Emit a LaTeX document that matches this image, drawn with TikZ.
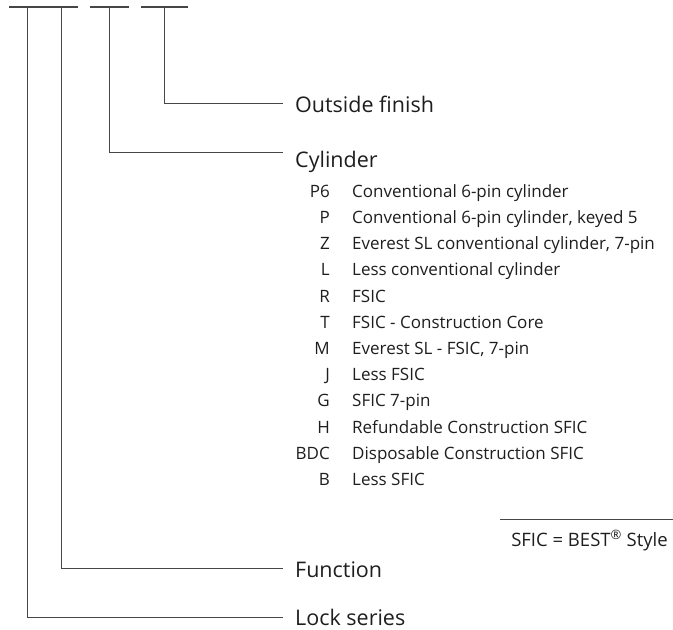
\documentclass[tikz,border=0pt]{standalone}
\usepackage{fontspec}
\setmainfont{Open Sans}
\usetikzlibrary{positioning}
\definecolor{rule}{RGB}{70,70,70}
\definecolor{ink}{RGB}{30,30,30}
\tikzset{
  bar/.style={draw=rule,line width=1.1pt},
  lead/.style={draw=rule,line width=1pt},
  head/.style={anchor=base west,inner sep=0pt,text=ink,font=\fontsize{21.5}{24}\selectfont},
  code/.style={anchor=base east,inner sep=0pt,text=ink,font=\fontsize{17}{20}\selectfont},
  desc/.style={anchor=base west,inner sep=0pt,text=ink,font=\fontsize{17}{20}\selectfont},
  notetext/.style={anchor=base east,inner sep=0pt,text=ink,font=\fontsize{18.5}{21}\selectfont},
}
\begin{document}
\begin{tikzpicture}[x=1pt,y=-1pt]
  \useasboundingbox (0,0) rectangle (673,630);
  % segment bars on top
  \draw[bar] (9,7) -- (78,7);
  \draw[bar] (90,7) -- (129,7);
  \draw[bar] (141,7) -- (188,7);
  \coordinate (series) at (27,7);
  \coordinate (function) at (61,7);
  \coordinate (cylinder) at (109,7);
  \coordinate (finish) at (164,7);
  % labels
  \node[head] (finishlbl) at (295,112) {Outside finish};
  \node[head] (cyllbl) at (295,167) {Cylinder};
  \node[head] (funclbl) at (295,577) {Function};
  \node[head] (serieslbl) at (295,625) {Lock series};
  \draw[lead] (finish) |- ([xshift=-12pt,yshift=9pt]finishlbl.base west);
  \draw[lead] (cylinder) |- ([xshift=-12pt,yshift=15pt]cyllbl.base west);
  \draw[lead] (function) |- ([xshift=-12pt,yshift=9pt]funclbl.base west);
  \draw[lead] (series) |- ([xshift=-12pt,yshift=8pt]serieslbl.base west);
  % cylinder options
  \foreach \c/\d [count=\i] in {P6/Conventional 6-pin cylinder,
      P/{Conventional 6-pin cylinder, keyed 5},
      Z/{Everest SL conventional cylinder, 7-pin},
      L/Less conventional cylinder,
      R/FSIC,
      T/FSIC - Construction Core,
      M/{Everest SL - FSIC, 7-pin},
      J/Less FSIC,
      G/SFIC 7-pin,
      H/Refundable Construction SFIC,
      BDC/Disposable Construction SFIC,
      B/Less SFIC}{
    \node[code] (c\i) at (330,171+26.2*\i) {\c};
    \node[desc] (d\i) at (352,171+26.2*\i) {\d};
  }
  % note
  \coordinate (noteL) at (500,519);
  \coordinate (noteR) at (673,519);
  \draw[lead] (noteL) -- (noteR);
  \node[notetext] (note) at (668,546) {SFIC = BEST\textsuperscript{\textregistered} Style};
\end{tikzpicture}
\end{document}
